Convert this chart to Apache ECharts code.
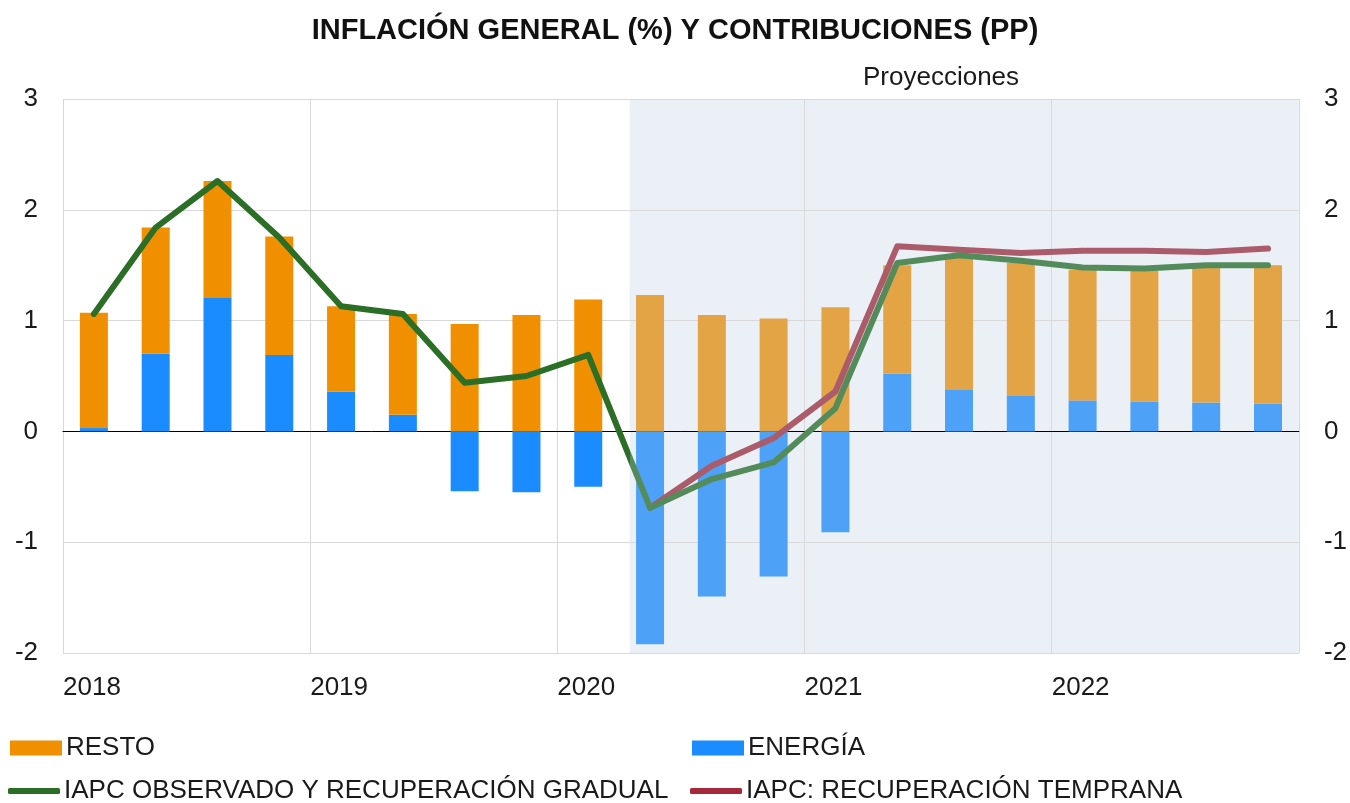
<!DOCTYPE html>
<html>
<head>
<meta charset="utf-8">
<title>Inflación general y contribuciones</title>
<script src="https://cdn.jsdelivr.net/npm/echarts@6/dist/echarts.min.js"></script>
<style>
  html, body { margin: 0; padding: 0; background: #fff; }
  #chart { width: 1350px; height: 803px; }
</style>
</head>
<body>
<div id="chart"></div>
<script>
// trimestres 2018T1 - 2022T4
const quarters = [
  '2018T1', '2018T2', '2018T3', '2018T4',
  '2019T1', '2019T2', '2019T3', '2019T4',
  '2020T1', '2020T2', '2020T3', '2020T4',
  '2021T1', '2021T2', '2021T3', '2021T4',
  '2022T1', '2022T2', '2022T3', '2022T4'
];
const yearLabels = ['2018', '2019', '2020', '2021', '2022'];
const firstProjection = 9;

const resto = [1.04, 1.14, 1.05, 1.07, 0.77, 0.91, 0.97, 1.05, 1.19, 1.23, 1.05, 1.02, 1.12, 0.98, 1.20, 1.20, 1.18, 1.18, 1.22, 1.25];
const energia = [0.03, 0.70, 1.21, 0.69, 0.36, 0.15, -0.54, -0.55, -0.50, -1.92, -1.49, -1.31, -0.91, 0.52, 0.38, 0.32, 0.28, 0.27, 0.26, 0.25];
const iapcGradual = [1.06, 1.84, 2.26, 1.75, 1.13, 1.06, 0.44, 0.50, 0.69, -0.69, -0.43, -0.28, 0.21, 1.52, 1.59, 1.54, 1.48, 1.47, 1.50, 1.50];
const iapcTemprana = [null, null, null, null, null, null, null, null, null, -0.69, -0.31, -0.06, 0.36, 1.67, 1.64, 1.61, 1.63, 1.63, 1.62, 1.65];

const FONT = '"Liberation Sans", Arial, sans-serif';
const TEXT = '#1a1a1a';
const GREEN = '#2b6e25';
const GREEN_PROJ = '#548b5b';

function barData(values, histColor, projColor) {
  return values.map((v, i) => ({
    value: v,
    itemStyle: { color: i >= firstProjection ? projColor : histColor }
  }));
}

function legendAt(name, left, top, icon, h) {
  return {
    data: [{ name: name, icon: icon }],
    left: left,
    top: top,
    padding: 0,
    itemWidth: 52,
    itemHeight: h,
    itemGap: 0,
    selectedMode: false,
    textStyle: { fontFamily: FONT, fontSize: 26, color: TEXT, padding: [0, 0, 0, -1] }
  };
}

// el tramo de proyección de la línea verde se dibuja más claro (a partir de x = 630 px)
const greenLine = {
  type: 'linear', x: 0, y: 0, x2: 1350, y2: 0, global: true,
  colorStops: [
    { offset: 0, color: GREEN },
    { offset: 630 / 1350, color: GREEN },
    { offset: 630 / 1350, color: GREEN_PROJ },
    { offset: 1, color: GREEN_PROJ }
  ]
};

const chart = echarts.init(document.getElementById('chart'));
chart.setOption({
  animation: false,
  title: {
    text: 'INFLACIÓN GENERAL (%) Y CONTRIBUCIONES (PP)',
    left: 'center',
    top: 11,
    textStyle: { fontFamily: FONT, fontSize: 29, fontWeight: 'bold', color: '#111' }
  },
  graphic: [{
    type: 'text',
    left: 863,
    top: 65,
    style: { text: 'Proyecciones', font: '26px ' + FONT, fill: TEXT }
  }],
  legend: [
    legendAt('RESTO', 10, 735, 'rect', 15),
    legendAt('ENERGÍA', 692, 735, 'rect', 15),
    legendAt('IAPC OBSERVADO Y RECUPERACIÓN GRADUAL', 8, 778, 'roundRect', 6),
    legendAt('IAPC: RECUPERACIÓN TEMPRANA', 690, 778, 'roundRect', 6)
  ],
  grid: { left: 63, right: 50, top: 99, bottom: 150 },
  xAxis: [
    {
      type: 'category',
      data: quarters,
      boundaryGap: true,
      axisLine: { onZero: true, lineStyle: { color: '#000', width: 1 } },
      axisTick: { show: false },
      axisLabel: { show: false },
      splitLine: { show: false }
    },
    {
      type: 'value',
      min: 0,
      max: 20,
      interval: 4,
      position: 'bottom',
      axisLine: { show: false },
      axisTick: { show: false },
      splitLine: { show: true, lineStyle: { color: '#d9d9d9', width: 1 } },
      axisLabel: {
        align: 'left',
        margin: 22,
        fontFamily: FONT,
        fontSize: 26,
        color: TEXT,
        formatter: v => yearLabels[v / 4] || ''
      }
    }
  ],
  yAxis: [
    {
      type: 'value',
      min: -2,
      max: 3,
      interval: 1,
      axisLine: { show: false },
      axisTick: { show: false },
      splitLine: { lineStyle: { color: '#d9d9d9', width: 1 } },
      axisLabel: { margin: 25, fontFamily: FONT, fontSize: 26, color: TEXT }
    },
    {
      type: 'value',
      min: -2,
      max: 3,
      interval: 1,
      position: 'right',
      axisLine: { show: false },
      axisTick: { show: false },
      splitLine: { show: false },
      axisLabel: { margin: 25, fontFamily: FONT, fontSize: 26, color: TEXT }
    }
  ],
  series: [
    {
      name: 'ENERGÍA',
      type: 'bar',
      stack: 'contrib',
      barWidth: 28,
      itemStyle: { color: '#1b8cff' },
      data: barData(energia, '#1b8cff', '#4da2f8')
    },
    {
      name: 'RESTO',
      type: 'bar',
      stack: 'contrib',
      barWidth: 28,
      itemStyle: { color: '#f09000' },
      data: barData(resto, '#f09000', '#e2a445')
    },
    {
      name: 'IAPC OBSERVADO Y RECUPERACIÓN GRADUAL',
      type: 'line',
      symbol: 'none',
      z: 4,
      itemStyle: { color: GREEN },
      lineStyle: { color: greenLine, width: 6, cap: 'round', join: 'round' },
      data: iapcGradual
    },
    {
      name: 'IAPC: RECUPERACIÓN TEMPRANA',
      type: 'line',
      symbol: 'none',
      z: 3,
      itemStyle: { color: '#a6293b' },
      lineStyle: { color: '#ab5b69', width: 6, cap: 'round', join: 'round' },
      data: iapcTemprana
    },
    {
      // zona sombreada de proyecciones
      type: 'line',
      xAxisIndex: 1,
      symbol: 'none',
      silent: true,
      z: -1,
      lineStyle: { opacity: 0 },
      data: [[0, 0], [20, 0]],
      markArea: {
        silent: true,
        z: -1,
        itemStyle: { color: '#ebf0f7' },
        data: [[{ xAxis: 9.17 }, { xAxis: 20 }]]
      }
    }
  ]
});
</script>
</body>
</html>
